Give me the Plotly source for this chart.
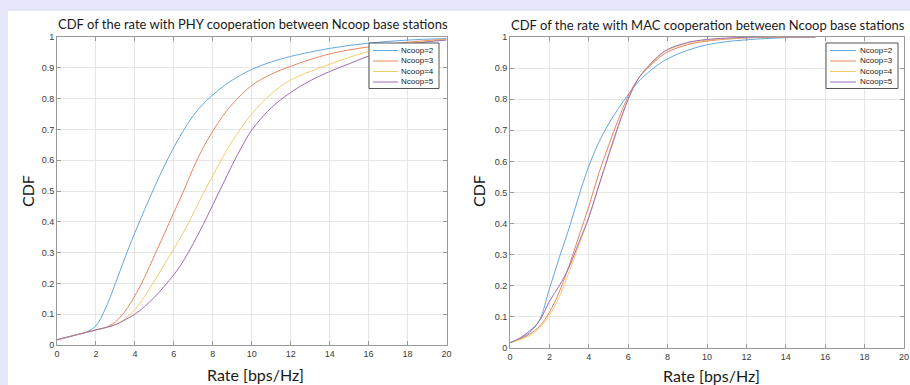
import plotly.graph_objects as go

# ---------------- data ----------------
names = ["Ncoop=2", "Ncoop=3", "Ncoop=4", "Ncoop=5"]
colors = ["#62a8dc", "#e8845f", "#f3cb6a", "#9d6cba"]

# PHY cooperation (left)
phy_x2 = [0, 1, 1.5, 2, 2.5, 3, 3.5, 4, 4.5, 5, 5.5, 6, 6.5, 7, 7.5, 8, 8.5, 9, 10, 11, 12, 14, 16, 18, 20]
phy_y2 = [0.017, 0.033, 0.042, 0.062, 0.12, 0.20, 0.285, 0.365, 0.44, 0.512, 0.58, 0.642, 0.697, 0.745, 0.782, 0.812, 0.838, 0.86, 0.895, 0.919, 0.937, 0.963, 0.98, 0.99, 0.995]
phy_x3 = [0, 1, 2, 2.5, 3, 3.5, 4, 4.5, 5, 5.5, 6, 6.5, 7, 7.5, 8, 8.5, 9, 10, 11, 12, 14, 16, 18, 20]
phy_y3 = [0.017, 0.033, 0.049, 0.057, 0.075, 0.11, 0.16, 0.22, 0.29, 0.36, 0.43, 0.50, 0.575, 0.64, 0.695, 0.742, 0.782, 0.843, 0.879, 0.905, 0.945, 0.968, 0.983, 0.993]
phy_x4 = [0, 1, 2, 3, 3.5, 4, 4.5, 5, 5.5, 6, 6.5, 7, 7.5, 8, 8.5, 9, 10, 11, 12, 13.5, 16, 18, 20]
phy_y4 = [0.017, 0.033, 0.049, 0.066, 0.085, 0.115, 0.158, 0.208, 0.26, 0.312, 0.367, 0.427, 0.49, 0.55, 0.608, 0.662, 0.75, 0.815, 0.86, 0.90, 0.953, 0.978, 0.992]
phy_x5 = [0, 1, 2, 3, 3.5, 4, 4.5, 5, 5.5, 6, 6.5, 7, 7.5, 8, 8.5, 9, 9.5, 10, 11, 12, 13, 14, 15, 16, 18, 20]
phy_y5 = [0.017, 0.033, 0.049, 0.066, 0.082, 0.10, 0.125, 0.155, 0.19, 0.228, 0.274, 0.33, 0.39, 0.455, 0.52, 0.585, 0.645, 0.698, 0.77, 0.82, 0.858, 0.888, 0.913, 0.938, 0.975, 0.99]

# MAC cooperation (right)
mac_x2 = [0, 0.5, 1, 1.5, 2, 2.5, 3, 3.5, 4, 4.5, 5, 5.5, 6, 6.5, 7, 7.5, 8, 9, 10, 11, 12, 14, 15.5]
mac_y2 = [0.017, 0.03, 0.05, 0.09, 0.19, 0.29, 0.385, 0.49, 0.585, 0.66, 0.72, 0.77, 0.815, 0.855, 0.885, 0.91, 0.93, 0.957, 0.975, 0.985, 0.991, 0.998, 1.0]
mac_x3 = [0, 0.5, 1, 1.5, 2, 2.5, 3, 3.5, 4, 4.5, 5, 5.5, 6, 6.5, 7, 7.5, 8, 9, 10, 12, 14, 15.5]
mac_y3 = [0.017, 0.028, 0.045, 0.07, 0.115, 0.18, 0.265, 0.36, 0.455, 0.56, 0.65, 0.735, 0.81, 0.865, 0.90, 0.93, 0.952, 0.975, 0.987, 0.997, 1.0, 1.0]
mac_x4 = [0, 0.5, 1, 1.5, 2, 2.5, 3, 3.5, 4, 4.5, 5, 5.5, 6, 6.5, 7, 7.5, 8, 9, 10, 12, 14, 15.5]
mac_y4 = [0.017, 0.027, 0.04, 0.065, 0.105, 0.165, 0.245, 0.33, 0.42, 0.52, 0.615, 0.71, 0.80, 0.865, 0.902, 0.935, 0.958, 0.98, 0.99, 0.998, 1.0, 1.0]
mac_x5 = [0, 0.5, 1, 1.5, 2, 2.5, 3, 3.5, 4, 4.5, 5, 5.5, 6, 6.5, 7, 7.5, 8, 9, 10, 12, 14, 15.5]
mac_y5 = [0.017, 0.032, 0.055, 0.088, 0.15, 0.2, 0.26, 0.34, 0.42, 0.52, 0.62, 0.715, 0.80, 0.865, 0.905, 0.937, 0.96, 0.982, 0.992, 0.999, 1.0, 1.0]

x_ticks = list(range(0, 21, 2))
y_ticks = [i / 10 for i in range(11)]
y_tick_text = ["0", "0.1", "0.2", "0.3", "0.4", "0.5", "0.6", "0.7", "0.8", "0.9", "1"]

titles = ["CDF of the rate with PHY cooperation between Ncoop base stations",
          "CDF of the rate with MAC cooperation between Ncoop base stations"]
x_title = "Rate [bps/Hz]"
y_title = "CDF"

# ---------------- figure ----------------
W, H = 910, 385
fig = go.Figure()

phy = [(phy_x2, phy_y2), (phy_x3, phy_y3), (phy_x4, phy_y4), (phy_x5, phy_y5)]
mac = [(mac_x2, mac_y2), (mac_x3, mac_y3), (mac_x4, mac_y4), (mac_x5, mac_y5)]

for i, (xs, ys) in enumerate(phy):
    fig.add_trace(go.Scatter(x=xs, y=ys, mode="lines", name=names[i],
                             line=dict(color=colors[i], width=1, shape="spline", smoothing=1),
                             xaxis="x", yaxis="y", showlegend=False))
for i, (xs, ys) in enumerate(mac):
    fig.add_trace(go.Scatter(x=xs, y=ys, mode="lines", name=names[i],
                             line=dict(color=colors[i], width=1, shape="spline", smoothing=1),
                             xaxis="x2", yaxis="y2", showlegend=False))

def px(x):
    return x / W

def py(y):
    return 1 - y / H

axis_common = dict(
    range=[0, 20], showgrid=True, gridcolor="#e6e6e6", gridwidth=1,
    showline=True, linecolor="#9a9a9a", linewidth=1, mirror="ticks",
    ticks="inside", ticklen=4, tickcolor="#9a9a9a", zeroline=False,
    tickfont=dict(family="Liberation Sans, Arial", size=9, color="#3a3a3a"),
    automargin=False, fixedrange=True,
)
yaxis_common = dict(axis_common)
yaxis_common.update(range=[0, 1], tickvals=y_ticks, ticktext=y_tick_text)
xaxis_common = dict(axis_common)
xaxis_common.update(tickvals=x_ticks)

# panel geometry (pixels)
L = dict(x0=57, x1=446.5, ytop=37, ybot=345)
R = dict(x0=510, x1=904, ytop=37, ybot=348)

fig.update_layout(
    width=W, height=H,
    margin=dict(l=0, r=0, t=0, b=0),
    paper_bgcolor="#e6e6fa", plot_bgcolor="white",
    xaxis=dict(xaxis_common, domain=[px(L["x0"]), px(L["x1"])], anchor="y"),
    yaxis=dict(yaxis_common, domain=[py(L["ybot"]), py(L["ytop"])], anchor="x"),
    xaxis2=dict(xaxis_common, domain=[px(R["x0"]), px(R["x1"])], anchor="y2"),
    yaxis2=dict(yaxis_common, domain=[py(R["ybot"]), py(R["ytop"])], anchor="x2"),
    showlegend=False,
)

shapes = [dict(type="rect", xref="paper", yref="paper", x0=px(8), x1=1, y0=0, y1=py(11),
               fillcolor="white", line=dict(width=0), layer="below")]
annotations = []
title_font = dict(family="Lato, Carlito, sans-serif", size=13, color="#1a1a1a")
label_font = dict(family="Lato, Carlito, sans-serif", size=16, color="#1a1a1a")

for P, title, ty, xy, yx in [(L, titles[0], 24, 374, 27), (R, titles[1], 25, 375, 478)]:
    cx = (P["x0"] + P["x1"]) / 2
    annotations.append(dict(text=title, xref="paper", yref="paper", x=px(cx + 1), y=py(ty),
                            xanchor="center", yanchor="middle", showarrow=False, font=title_font))
    annotations.append(dict(text=x_title, xref="paper", yref="paper", x=px(cx + 4), y=py(xy),
                            xanchor="center", yanchor="middle", showarrow=False, font=label_font))
    annotations.append(dict(text=y_title, xref="paper", yref="paper", x=px(yx), y=py(191),
                            xanchor="center", yanchor="middle", showarrow=False, font=label_font,
                            textangle=-90))

# compact MATLAB-style legends
leg_font = dict(family="Liberation Sans, Arial", size=8, color="#222222")
for (bx0, bx1, lx0, lx1) in [(369, 439, 373, 398), (826, 898, 830, 856)]:
    shapes.append(dict(type="rect", xref="paper", yref="paper", x0=px(bx0), x1=px(bx1),
                       y0=py(88.5), y1=py(43), fillcolor="white",
                       line=dict(color="#555555", width=1), layer="above"))
    for i, nm in enumerate(names):
        yy = 50.5 + i * 10.5
        shapes.append(dict(type="line", xref="paper", yref="paper", x0=px(lx0), x1=px(lx1),
                           y0=py(yy), y1=py(yy), line=dict(color=colors[i], width=1), layer="above"))
        annotations.append(dict(text=nm, xref="paper", yref="paper", x=px(bx1 - 3), y=py(yy),
                                xanchor="right", yanchor="middle", showarrow=False, font=leg_font))

fig.update_layout(shapes=shapes, annotations=annotations)
fig.write_html("out.html", config={"displayModeBar": False},
               post_script="document.body.style.margin='0';document.body.style.background='#e6e6fa';")
